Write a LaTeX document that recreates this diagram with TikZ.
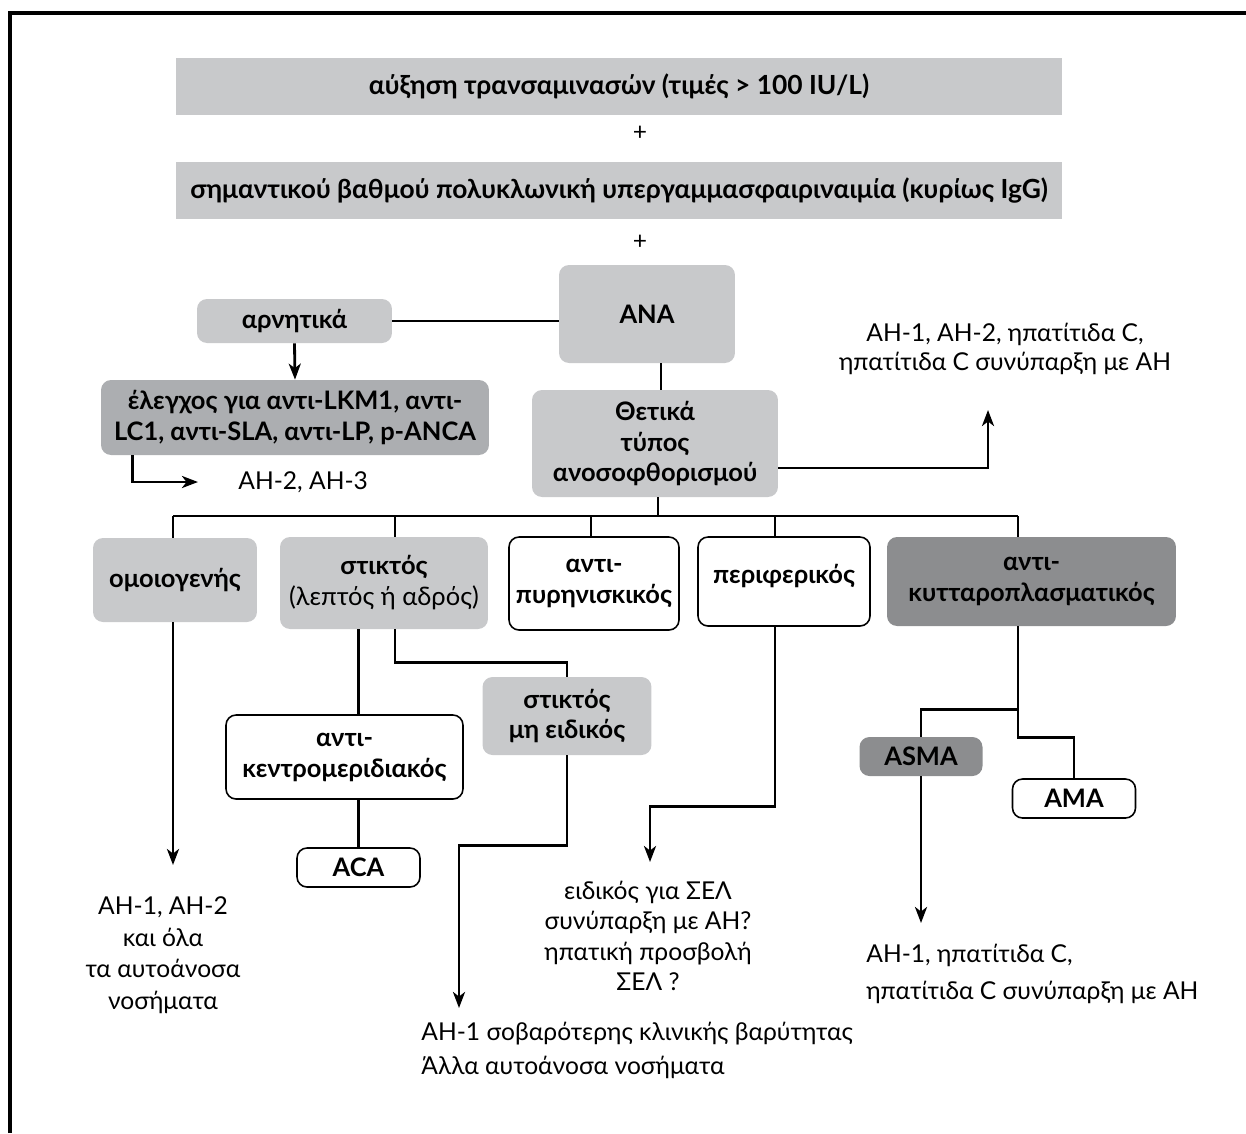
\documentclass[tikz,border=0pt]{standalone}
\usepackage{fontspec}
\setmainfont{Lato}
\usetikzlibrary{arrows.meta,calc}
\definecolor{boxgray}{RGB}{200,201,203}
\definecolor{midgray}{RGB}{172,174,177}
\definecolor{cytogray}{RGB}{140,141,143}
\newcommand{\labfont}{\fontsize{14.5}{17.6}\selectfont}
\newcommand{\barfont}{\fontsize{15}{18}\selectfont}

\begin{document}
\begin{tikzpicture}[x=0.02cm,y=-0.02cm]

\tikzstyle{bar}=[fill=boxgray,minimum width=17.72cm,minimum height=1.14cm,inner sep=0pt,font=\barfont\bfseries]
\tikzstyle{box}=[rounded corners=0.2cm,align=center,inner sep=2pt,font=\labfont\bfseries]
\tikzstyle{grey box}=[box,fill=boxgray]
\tikzstyle{mid box}=[box,fill=midgray]
\tikzstyle{dark box}=[box,fill=cytogray]
\tikzstyle{white box}=[box,draw,line width=0.9pt,fill=white]
\tikzstyle{small}=[minimum width=2.46cm,minimum height=0.78cm]
\tikzstyle{note}=[align=center,inner sep=0pt,font=\fontsize{14}{17.6}\selectfont]
\tikzstyle{link}=[line width=1.6pt]
\tikzstyle{arr}=[link,-{Stealth[length=3.2mm,width=2.4mm,inset=0.9mm]}]

\useasboundingbox (0,0) rectangle (1246,1133);
\draw[line width=2pt] (10,1133) -- (10,13) -- (1246,13);

\node[bar] (t1) at (619,86.5) {αύξηση τρανσαμινασών (τιμές > 100 IU/L)};
\node[note] (p1) at (640,133) {+};
\node[bar] (t2) at (619,190.5) {σημαντικού βαθμού πολυκλωνική υπεργαμμασφαιριναιμία (κυρίως IgG)};
\node[note] (p2) at (640,242) {+};

\node[grey box,minimum width=3.52cm,minimum height=1.96cm] (ana) at (647,314) {ANA};
\node[grey box,minimum width=3.9cm,minimum height=0.88cm] (neg) at (294.5,321) {αρνητικά};
\node[mid box,minimum width=7.76cm,minimum height=1.5cm] (test) at (295,417.5) {έλεγχος για αντι-LKM1, αντι-\\LC1, αντι-SLA, αντι-LP, p-ANCA};
\node[note,anchor=west] (ah23) at (238,482) {ΑΗ-2, ΑΗ-3};

\node[grey box,minimum width=4.92cm,minimum height=2.14cm] (pos) at (655,443.5) {Θετικά\\τύπος\\ανοσοφθορισμού};
\node[note,font=\fontsize{14}{16.5}\selectfont] (hcv) at (1005,349) {ΑΗ-1, ΑΗ-2, ηπατίτιδα C,\\ηπατίτιδα C συνύπαρξη με ΑΗ};

\node[grey box,minimum width=3.28cm,minimum height=1.68cm] (homog) at (175,580) {ομοιογενής};
\node[grey box,minimum width=4.16cm,minimum height=1.84cm] (speck) at (384,583) {στικτός\\{\mdseries (λεπτός ή αδρός)}};
\node[white box,minimum width=3.4cm,minimum height=1.86cm] (nucleo) at (594,583.5) {αντι-\\πυρηνισκικός};
\node[white box,minimum width=3.44cm,minimum height=1.78cm,text depth=0.3cm] (periph) at (784,581.5) {περιφερικός};
\node[dark box,minimum width=5.78cm,minimum height=1.78cm] (cyto) at (1031.5,581.5) {αντι-\\κυτταροπλασματικός};

\node[white box,minimum width=4.74cm,minimum height=1.68cm] (centro) at (344.5,757) {αντι-\\κεντρομεριδιακός};
\node[grey box,minimum width=3.38cm,minimum height=1.56cm] (nonspec) at (567,716) {στικτός\\μη ειδικός};
\node[white box,small] (aca) at (358.5,867.5) {ACA};
\node[dark box,small] (asma) at (921,756.5) {ASMA};
\node[white box,small] (ama) at (1074,798.5) {AMA};

\node[note,font=\fontsize{14}{18}\selectfont] (allai) at (163,955) {ΑΗ-1, ΑΗ-2\\και όλα\\τα αυτοάνοσα\\νοσήματα};
\node[note,align=left,anchor=west,font=\fontsize{14}{19.3}\selectfont] (severe) at (421,1050) {ΑΗ-1 σοβαρότερης κλινικής βαρύτητας\\Άλλα αυτοάνοσα νοσήματα};
\node[note,font=\fontsize{14}{17.4}\selectfont] (sle) at (648,936) {ειδικός για ΣΕΛ\\συνύπαρξη με ΑΗ?\\ηπατική προσβολή\\ΣΕΛ ?};
\node[note,align=left,anchor=west,font=\fontsize{14}{21}\selectfont] (hcvb) at (866,973.5) {ΑΗ-1, ηπατίτιδα C,\\ηπατίτιδα C συνύπαρξη με ΑΗ};

\coordinate (ap) at (661,0);
\coordinate (up) at (988,410);
\coordinate (bpos) at (658,516);
\coordinate (bh) at (173,516);
\coordinate (bs) at (395,516);
\coordinate (bn) at (591,516);
\coordinate (bp) at (775,516);
\coordinate (bc) at (1018,516);
\coordinate (tipA) at (173,865);
\coordinate (tipB) at (459,1008);
\coordinate (tipC) at (650,862);
\coordinate (tipD) at (921,923);

\draw[link] (neg.east) -- (neg.east -| ana.west);
\draw[arr] (neg.south) -- (test.north);
\draw[arr] ($(test.south west)+(32,0)$) |- ($(ah23.west)+(-40,0)$);
\draw[link] (ap |- ana.south) -- (ap |- pos.north);
\draw[arr] ($(pos.east)+(0,24.5)$) -| (up);

\draw[link] (bpos |- pos.south) -- (bpos);
\draw[link] (bh) -- (bc);
\foreach \b/\n in {bh/homog,bs/speck,bn/nucleo,bp/periph,bc/cyto}
  \draw[link] (\b) -- (\b |- \n.north);

\draw[arr] (bh |- homog.south) -- (tipA);
\draw[link] (speck.south -| aca) -- (centro.north -| aca);
\draw[link] (centro.south -| aca) -- (aca.north);
\draw[link] (bs |- speck.south) |- ($(nonspec.north)+(0,-14)$) -- (nonspec.north);
\draw[arr] (nonspec.south) -- ++(0,90) -| (tipB);
\draw[arr] (bp |- periph.south) -- ++(0,180) -| (tipC);
\draw[link] (bc |- cyto.south) -- ++(0,83) coordinate (cj) -| (asma.north);
\draw[link] (cj) -- ++(0,28) -| (ama.north);
\draw[arr] (asma.south) -- (tipD);

\end{tikzpicture}
\end{document}
